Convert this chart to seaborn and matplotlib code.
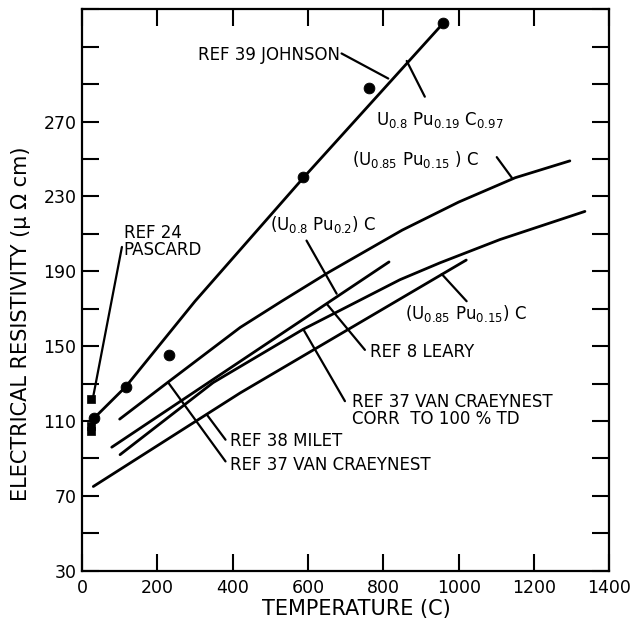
import matplotlib
matplotlib.use("Agg")
import matplotlib.pyplot as plt
from matplotlib.ticker import FixedLocator, FuncFormatter
import pandas as pd
import seaborn as sns

# ---------------- data ----------------
johnson_line_T = [32, 116, 300, 590, 959]
johnson_line_R = [111.5, 128.3, 174, 240.5, 322.6]
johnson_pts_T = [32, 116, 232, 587, 762, 959]
johnson_pts_R = [111.5, 128.3, 145.3, 240.5, 288, 322.6]

pascard_T = [24, 25, 25]
pascard_R = [122, 107.5, 104.5]

vancraeynest_T = [100, 230, 420, 530, 655, 850, 1000, 1150, 1295]
vancraeynest_R = [111, 131, 160, 174, 189.5, 212, 227, 240, 249]

corr_T = [101, 348, 587, 844, 950, 1110, 1335]
corr_R = [92, 130.5, 159, 185.5, 194.5, 207, 222]

leary_T = [79, 815]
leary_R = [96, 195]

milet_T = [30, 420, 1020]
milet_R = [75, 125, 196]

x_ticks = [0, 200, 400, 600, 800, 1000, 1200, 1400]
y_ticks = list(range(30, 331, 20))
y_labelled = [30, 70, 110, 150, 190, 230, 270]

# ---------------- style ----------------
sns.set_theme(style="ticks")
plt.rcParams["font.family"] = ["DejaVu Sans"]
plt.rcParams["axes.linewidth"] = 1.6
plt.rcParams["text.color"] = "black"
plt.rcParams["axes.labelcolor"] = "black"
plt.rcParams["xtick.color"] = "black"
plt.rcParams["ytick.color"] = "black"

fig = plt.figure(figsize=(6.3, 6.21), dpi=100)
ax = fig.add_axes([82 / 630, 1 - 570.7 / 621, 527.4 / 630, 561.4 / 621])

curves = {
    "johnson": (johnson_line_T, johnson_line_R),
    "vancraeynest": (vancraeynest_T, vancraeynest_R),
    "corr": (corr_T, corr_R),
    "leary": (leary_T, leary_R),
    "milet": (milet_T, milet_R),
}
for name, (t, r) in curves.items():
    df = pd.DataFrame({"T": t, "R": r})
    sns.lineplot(data=df, x="T", y="R", sort=False, estimator=None,
                 color="black", lw=2.0, ax=ax)

sns.scatterplot(x=johnson_pts_T, y=johnson_pts_R, marker="o", s=60,
                color="black", edgecolor="black", ax=ax, zorder=5)
sns.scatterplot(x=pascard_T, y=pascard_R, marker="s", s=40,
                color="black", edgecolor="black", ax=ax, zorder=5)

# ---------------- annotations ----------------
def leader(p_text, p_curve):
    ax.annotate("", xy=p_curve, xytext=p_text,
                arrowprops=dict(arrowstyle="-", lw=1.6, color="black",
                                shrinkA=0, shrinkB=0))

fs = 12
tc = "black"
ax.text(686, 305.5, "REF 39 JOHNSON", ha="right", va="center", fontsize=fs, color=tc)
leader((689, 306.4), (813, 293))

ax.text(780, 271, r"U$_{0.8}$ Pu$_{0.19}$ C$_{0.97}$", ha="left", va="center", fontsize=fs, color=tc)
leader((910, 283.3), (862, 302.4))

ax.text(716, 249.7, r"(U$_{0.85}$ Pu$_{0.15}$ ) C", ha="left", va="center", fontsize=fs, color=tc)
leader((1101, 251), (1141, 240))

ax.text(499, 215, r"(U$_{0.8}$ Pu$_{0.2}$) C", ha="left", va="center", fontsize=fs, color=tc)
leader((596, 206.4), (676, 178))

ax.text(765, 147, "REF 8 LEARY", ha="left", va="center", fontsize=fs, color=tc)
leader((751, 148), (650, 172.5))

ax.text(857, 167.6, r"(U$_{0.85}$ Pu$_{0.15}$) C", ha="left", va="center", fontsize=fs, color=tc)
leader((1021, 174), (955, 188.5))

ax.text(717, 115.5, "REF 37 VAN CRAEYNEST\nCORR  TO 100 % TD", ha="left",
        va="center", fontsize=fs, linespacing=0.95, color=tc)
leader((698, 120.6), (587.5, 159))

ax.text(393, 99.3, "REF 38 MILET", ha="left", va="center", fontsize=fs, color=tc)
leader((381, 100), (331, 113.5))

ax.text(393, 86.7, "REF 37 VAN CRAEYNEST", ha="left", va="center", fontsize=fs, color=tc)
leader((381, 88.4), (229, 130.5))

ax.text(111, 206, "REF 24\nPASCARD", ha="left", va="center", fontsize=fs,
        linespacing=0.95, color=tc)
leader((106, 203), (30, 123.3))

# ---------------- axes ----------------
ax.set_xlim(0, 1400)
ax.set_ylim(30, 330)
ax.xaxis.set_major_locator(FixedLocator(x_ticks))
ax.yaxis.set_major_locator(FixedLocator(y_ticks))
ax.yaxis.set_major_formatter(FuncFormatter(
    lambda v, p: f"{int(round(v))}" if int(round(v)) in y_labelled else ""))
ax.tick_params(axis="both", direction="in", length=12, width=1.5,
               top=True, right=True, labelsize=12.5, colors="black")
ax.tick_params(axis="x", pad=6)
ax.tick_params(axis="y", pad=4)
for s in ax.spines.values():
    s.set_visible(True)
    s.set_color("black")

ax.set_xlabel("TEMPERATURE (C)", fontsize=15, va="center", color="black")
ax.xaxis.set_label_coords(0.52, -0.068)
ax.set_ylabel("ELECTRICAL RESISTIVITY (\u03bc \u03a9 cm)", fontsize=15, va="center", color="black")
ax.yaxis.set_label_coords(-0.115, 0.44)

fig.savefig("out.png", dpi=100, facecolor="white")
